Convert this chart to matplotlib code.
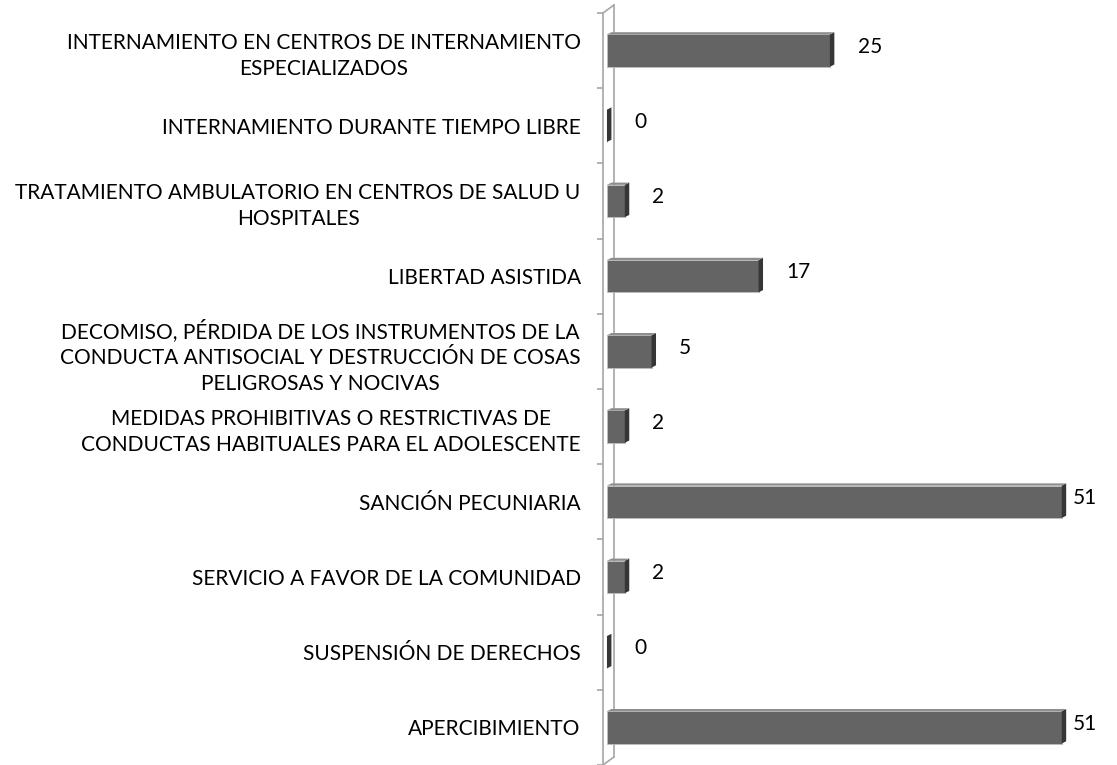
import matplotlib.pyplot as plt
from matplotlib.patches import Polygon

# categories from bottom to top, as drawn
categories = [
    'APERCIBIMIENTO',
    'SUSPENSIÓN DE DERECHOS',
    'SERVICIO A FAVOR DE LA COMUNIDAD',
    'SANCIÓN PECUNIARIA',
    'MEDIDAS PROHIBITIVAS O RESTRICTIVAS DE\nCONDUCTAS HABITUALES PARA EL ADOLESCENTE',
    'DECOMISO, PÉRDIDA DE LOS INSTRUMENTOS DE LA\nCONDUCTA ANTISOCIAL Y DESTRUCCIÓN DE COSAS\nPELIGROSAS Y NOCIVAS',
    'LIBERTAD ASISTIDA',
    'TRATAMIENTO AMBULATORIO EN CENTROS DE SALUD U\nHOSPITALES',
    'INTERNAMIENTO DURANTE TIEMPO LIBRE',
    'INTERNAMIENTO EN CENTROS DE INTERNAMIENTO\nESPECIALIZADOS',
]
values = [51, 0, 2, 51, 2, 5, 17, 2, 0, 25]

plt.rcParams['font.family'] = ['Lato', 'DejaVu Sans']

fig = plt.figure(figsize=(11.17, 7.65), dpi=100)
ax = fig.add_axes([0.5398, 0.0, 0.4602, 0.983])

front = '#646464'
side = '#363636'
top = '#8e8e8e'
h = 0.43
dx, dy = 0.5, 0.03  # depth of the 3d look

ypos = list(range(len(values)))
ax.barh(ypos, values, height=h, color=front, edgecolor='#bdbdbd', linewidth=0.6, zorder=3)
for y, v in zip(ypos, values):
    yb, yt = y - h / 2, y + h / 2
    ax.add_patch(Polygon([(v, yb), (v + dx, yb + dy), (v + dx, yt + dy), (v, yt)],
                         closed=True, facecolor=side, edgecolor='none', zorder=4))
    ax.add_patch(Polygon([(0, yt), (dx, yt + dy), (v + dx, yt + dy), (v, yt)],
                         closed=True, facecolor=top, edgecolor='none', zorder=4))
    # labels sit ~28px right of the bar, pushed back inside the chart for the longest bars
    lx = min(v + 3.1, max(values) + 1.2)
    ax.text(lx, y + 0.05, str(v), ha='left', va='center', fontsize=15, color='black')

ax.set_xlim(-0.45, 57.2)
ax.set_ylim(-0.5, 9.5)

for s in ['top', 'right', 'bottom']:
    ax.spines[s].set_visible(False)
ax.spines['left'].set_color('#a6a6a6')
ax.spines['left'].set_linewidth(1.2)
ax.set_xticks([])

ax.set_yticks(ypos)
ax.set_yticklabels(categories, fontsize=15, multialignment='center', linespacing=1.4)
ax.tick_params(axis='y', which='major', length=0, pad=16)
ax.set_yticks([i - 0.5 for i in range(len(values) + 1)], minor=True)
ax.tick_params(axis='y', which='minor', length=4.5, color='#a6a6a6', width=1.2)

# back wall line of the 3d frame
ax.plot([0.78, 0.78], [-0.5 + 0.106, 9.5 + 0.106], color='#a6a6a6', lw=1.2, clip_on=False, zorder=1)
ax.plot([-0.45, 0.78], [9.5, 9.5 + 0.106], color='#a6a6a6', lw=1.2, clip_on=False, zorder=1)
ax.plot([-0.45, 0.78], [-0.5, -0.5 + 0.106], color='#a6a6a6', lw=1.2, clip_on=False, zorder=1)

fig.savefig('out.png', dpi=100)
